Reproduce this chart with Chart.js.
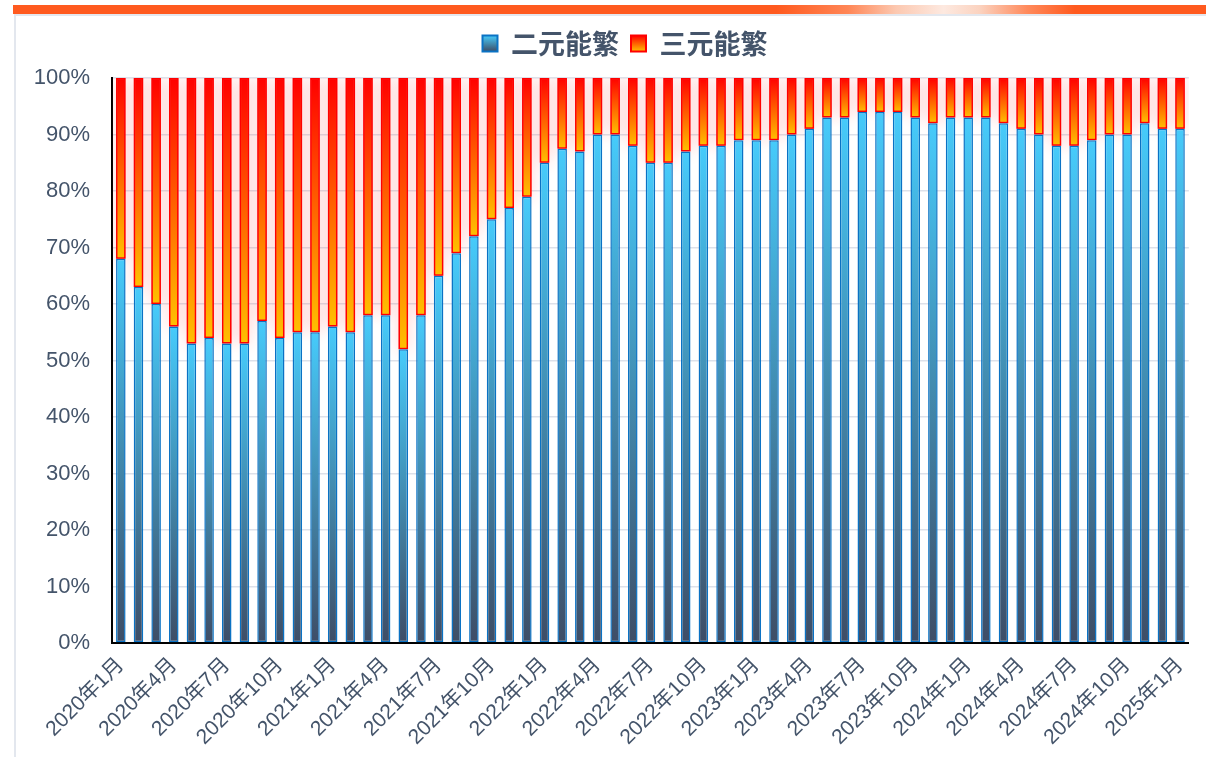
<!DOCTYPE html>
<html>
<head>
<meta charset="utf-8">
<script src="https://cdn.jsdelivr.net/npm/chart.js@4.4.1/dist/chart.umd.min.js"></script>
<style>
  html, body { margin: 0; padding: 0; background: #fff; overflow: hidden; }
  #topBar {
    position: absolute; left: 13px; top: 5px; width: 1193px; height: 9px;
    background: linear-gradient(to right, #ff5a1f 0%, #ff5a1f 64%, #ff8656 70%, #fcc8b0 74%, #fde9e0 78%, #fbd3c0 81%, #ff8a5c 85%, #ff5a1f 89%, #ff5a1f 100%);
  }
  #frame {
    position: absolute; left: 14px; top: 14px; width: 1192px; height: 743px;
    border-left: 2px solid #e3e7ee; border-top: 2px solid #e3e7ee;
  }
  #wrap { position: absolute; left: 2px; top: 2px; width: 1190px; height: 741px; }
</style>
</head>
<body>
<div id="topBar"></div>
<div id="frame"><div id="wrap"><canvas id="chart"></canvas></div></div>

<script>
// ===============================
// DATA
// ===============================
const months = [
  "2020年1月","2020年2月","2020年3月","2020年4月","2020年5月","2020年6月",
  "2020年7月","2020年8月","2020年9月","2020年10月","2020年11月","2020年12月",
  "2021年1月","2021年2月","2021年3月","2021年4月","2021年5月","2021年6月",
  "2021年7月","2021年8月","2021年9月","2021年10月","2021年11月","2021年12月",
  "2022年1月","2022年2月","2022年3月","2022年4月","2022年5月","2022年6月",
  "2022年7月","2022年8月","2022年9月","2022年10月","2022年11月","2022年12月",
  "2023年1月","2023年2月","2023年3月","2023年4月","2023年5月","2023年6月",
  "2023年7月","2023年8月","2023年9月","2023年10月","2023年11月","2023年12月",
  "2024年1月","2024年2月","2024年3月","2024年4月","2024年5月","2024年6月",
  "2024年7月","2024年8月","2024年9月","2024年10月","2024年11月","2024年12月",
  "2025年1月"
];

// 二元能繁 share (%)
const binary = [
  68, 63, 60, 56, 53, 54, 53, 53, 57, 54, 55, 55,
  56, 55, 58, 58, 52, 58, 65, 69, 72, 75, 77, 79,
  85, 87.5, 87, 90, 90, 88, 85, 85, 87, 88, 88, 89,
  89, 89, 90, 91, 93, 93, 94, 94, 94, 93, 92, 93,
  93, 93, 92, 91, 90, 88, 88, 89, 90, 90, 92, 91,
  91
];

// 三元能繁 share (%)
const ternary = [
  32, 37, 40, 44, 47, 46, 47, 47, 43, 46, 45, 45,
  44, 45, 42, 42, 48, 42, 35, 31, 28, 25, 23, 21,
  15, 12.5, 13, 10, 10, 12, 15, 15, 13, 12, 12, 11,
  11, 11, 10, 9, 7, 7, 6, 6, 6, 7, 8, 7,
  7, 7, 8, 9, 10, 12, 12, 11, 10, 10, 8, 9,
  9
];

const yTicks = [0, 10, 20, 30, 40, 50, 60, 70, 80, 90, 100];

const textColor = "#44546a";


// ===============================
// GRADIENTS (per bar)
// ===============================
function vGradient(chart, v0, v1, c0, c1, fallback){
  const y = chart.scales.y;
  if(!y || !chart.chartArea) return fallback;
  const a = y.getPixelForValue(v0);
  const b = y.getPixelForValue(v1);
  if(!isFinite(a) || !isFinite(b) || a === b) return fallback;
  const g = chart.ctx.createLinearGradient(0, a, 0, b);
  g.addColorStop(0, c0);
  g.addColorStop(1, c1);
  return g;
}

function blueFill(c){
  const i = c.dataIndex;
  if(i === undefined) return "#3fbff0";
  return vGradient(c.chart, 0, binary[i], "#3e4d66", "#46cbfb", "#3fbff0");
}

function redFill(c){
  const i = c.dataIndex;
  if(i === undefined) return "#ff7000";
  return vGradient(c.chart, binary[i], binary[i] + ternary[i], "#ffc000", "#ff0000", "#ff7000");
}


// ===============================
// PLUGINS
// ===============================
// soft red glow behind the 三元 bars (bar element clips its own shadow,
// so the glow is painted from the bar elements before they are drawn)
const glowPlugin = {
  id: "glow",
  beforeDatasetDraw(chart, args){
    if(args.index !== 1) return;
    const c = chart.ctx;
    const a = chart.chartArea;
    c.save();
    c.beginPath();
    c.rect(a.left, a.top, a.right - a.left, a.bottom - a.top);
    c.clip();
    c.shadowColor = "rgba(255,40,40,0.22)";
    c.shadowBlur = 16;
    c.fillStyle = "#ff3030";
    args.meta.data.forEach(bar => {
      const p = bar.getProps(["x", "y", "base", "width"], true);
      c.fillRect(p.x - p.width / 2, p.y, p.width, p.base - p.y);
    });
    c.restore();
  }
};

// extra gap under the legend, and legend nudged right
const legendTweak = {
  id: "legendTweak",
  beforeInit(chart){
    const fit = chart.legend.fit;
    chart.legend.fit = function(){
      fit.bind(chart.legend)();
      this.height += 11;
    };
  },
  afterUpdate(chart){
    chart.legend.left += 42;
  }
};


// ===============================
// CHART
// ===============================
const ctx = document.getElementById("chart").getContext("2d");

new Chart(ctx, {
  type: "bar",
  data: {
    labels: months,
    datasets: [
      {
        label: "二元能繁",
        data: binary,
        backgroundColor: blueFill,
        borderColor: "#0a72c4",
        borderWidth: 1.5,
        borderSkipped: false,
        barPercentage: 0.54,
        categoryPercentage: 1
      },
      {
        label: "三元能繁",
        data: ternary,
        backgroundColor: redFill,
        borderColor: "#ff0000",
        borderWidth: 1.5,
        borderSkipped: false,
        barPercentage: 0.54,
        categoryPercentage: 1
      }
    ]
  },
  options: {
    responsive: true,
    maintainAspectRatio: false,
    animation: false,
    layout: { padding: { left: 0, right: 18, top: 0, bottom: 0 } },
    plugins: {
      tooltip: { enabled: false },
      legend: {
        position: "top",
        align: "center",
        labels: {
          color: textColor,
          padding: 12,
          boxWidth: 15,
          boxHeight: 16,
          font: { family: "'Noto Sans CJK SC', sans-serif", size: 27, weight: "bold" },
          generateLabels(chart){
            const items = Chart.defaults.plugins.legend.labels.generateLabels(chart);
            const c = chart.ctx;
            const g1 = c.createLinearGradient(0, 17.5, 0, 33.5);
            g1.addColorStop(0, "#46cbfb");
            g1.addColorStop(1, "#3e4d66");
            const g2 = c.createLinearGradient(0, 17.5, 0, 33.5);
            g2.addColorStop(0, "#ff0000");
            g2.addColorStop(1, "#ffc000");
            items[0].fillStyle = g1;
            items[0].strokeStyle = "#0a72c4";
            items[1].fillStyle = g2;
            items[1].strokeStyle = "#ff0000";
            items.forEach(it => { it.lineWidth = 2; });
            return items;
          }
        }
      }
    },
    scales: {
      x: {
        stacked: true,
        grid: { display: false, drawTicks: false },
        border: { display: true, color: "#000", width: 2 },
        ticks: {
          autoSkip: false,
          minRotation: 45,
          maxRotation: 45,
          padding: 10,
          color: textColor,
          font: { family: "'Liberation Sans', 'Noto Sans CJK SC', sans-serif", size: 21 },
          callback: function(v, i){ return i % 3 === 0 ? months[i] : ""; }
        },
        afterFit(scale){ scale.height = 116; }
      },
      y: {
        stacked: true,
        min: 0,
        max: 100,
        grid: { color: "#dde1ea", lineWidth: 1.5, drawTicks: false },
        border: { display: true, color: "#000", width: 2 },
        afterBuildTicks(scale){ scale.ticks = yTicks.map(v => ({ value: v })); },
        ticks: {
          padding: 22,
          color: textColor,
          font: { family: "'Liberation Sans', sans-serif", size: 22 },
          callback: v => v + "%"
        },
        afterFit(scale){ scale.width = 94; }
      }
    }
  },
  plugins: [glowPlugin, legendTweak]
});
</script>
</body>
</html>
